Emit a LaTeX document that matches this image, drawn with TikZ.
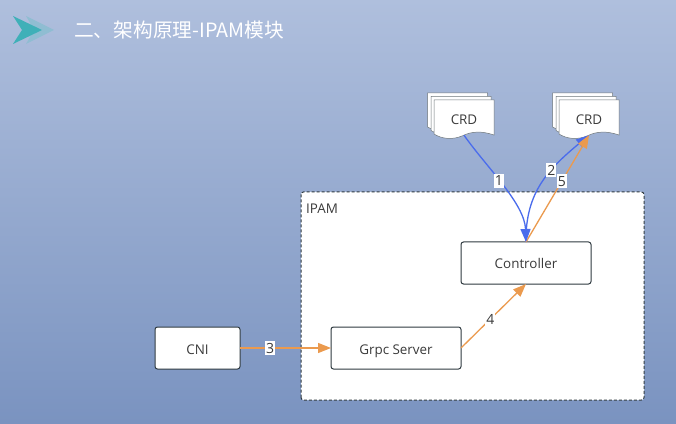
\documentclass[tikz,border=0pt]{standalone}
\usepackage{fontspec}
\setmainfont{Open Sans}
\newfontfamily\cjkfont{Noto Sans CJK SC}
\usetikzlibrary{positioning,arrows.meta}
\definecolor{slidetop}{HTML}{AFBFDD}
\definecolor{slidebottom}{HTML}{7A93C0}
\definecolor{linkblue}{HTML}{4A6CEC}
\definecolor{linkorange}{HTML}{EB9A4E}
\definecolor{boxline}{HTML}{2F3A40}
\definecolor{textgray}{HTML}{3A3A3A}
\definecolor{arrowfront}{HTML}{3FB0B8}
\definecolor{arrowback}{HTML}{8FBDD2}

\begin{document}
\begin{tikzpicture}[
x=1pt, y=1pt,
component/.style={rectangle, rounded corners=2.5pt, draw=boxline, fill=white, line width=1pt, outer sep=0pt, minimum height=42pt, text height=12pt, text depth=0pt, text=textgray, font=\fontsize{13.4}{15}\selectfont},
crdtext/.style={rectangle, minimum width=60pt, minimum height=32pt, inner sep=0pt, text height=12pt, text depth=0pt, text=textgray, font=\fontsize{13.4}{15}\selectfont},
numlabel/.style={fill=white, inner xsep=1pt, inner ysep=2pt, text=textgray, font=\fontsize{14}{15}\selectfont},
bluelink/.style={draw=linkblue, line width=1.3pt, -{Triangle[length=13pt,width=10pt]}},
orangelink/.style={draw=linkorange, line width=1.3pt, -{Triangle[length=13pt,width=10pt]}},
crdsheet/.style={draw=boxline!70, fill=white, line width=0.5pt},
crdstack/.pic={
  \draw[crdsheet] (-36.5,26) -- (23.5,26) -- (23.5,-9) .. controls (12,-5) and (2,-5) .. (-8,-10) .. controls (-18,-14) and (-28,-13) .. (-36.5,-8) -- cycle;
  \draw[crdsheet] (-33,22.5) -- (27,22.5) -- (27,-12.5) .. controls (15,-8.5) and (5,-8.5) .. (-5,-13.5) .. controls (-15,-17.5) and (-25,-16.5) .. (-33,-11.5) -- cycle;
  \draw[crdsheet] (-30,19) -- (30,19) -- (30,-16) .. controls (18,-12) and (8,-12) .. (-2,-17) .. controls (-12,-21) and (-22,-20) .. (-30,-15) -- cycle;
}
]
\useasboundingbox (0,0) rectangle (676,423);
\shade[top color=slidetop, bottom color=slidebottom] (0,0) rectangle (676,423);

% title bar
\fill[arrowback] (26,407) -- (54,393) -- (26,379) -- (34,393) -- cycle;
\fill[arrowfront] (13,407) -- (42,393) -- (13,379) -- (22,393) -- cycle;
\node(title)[anchor=west, inner sep=0pt, text=white, font=\cjkfont\fontsize{19.7}{22}\selectfont] at (74,393){二、架构原理-IPAM模块};

% IPAM area
\draw[draw=boxline, fill=white, line width=1pt, densely dashed, rounded corners=2.5pt] (301,23) rectangle (644,231);
\node(ipam_label)[anchor=north west, inner sep=0pt, text=textgray, font=\fontsize{13.4}{15}\selectfont] at (306,219){IPAM};

\node[component, minimum width=85pt](cni) at (197.5,75){CNI};
\node[component, minimum width=130pt](grpc_server)[right=91pt of cni]{Grpc Server};
\node[component, minimum width=130pt](controller)[above right=43pt and 0pt of grpc_server]{Controller};

\pic at (464,304) {crdstack};
\pic at (589,304) {crdstack};
\node[crdtext](crd_left) at (464,304){CRD};
\node[crdtext](crd_right) at (589,304){CRD};

\draw[bluelink] (controller.north) to[out=91,in=-140,looseness=1.05] node[numlabel,pos=0.62]{2} (crd_right.south);
\draw[orangelink] (controller.north) -- node[numlabel,pos=0.57]{5} (crd_right.south);
\draw[bluelink] (crd_left.south) to[out=-55,in=92,looseness=0.8] node[numlabel,pos=0.45]{1} (controller.north);
\draw[orangelink] (cni.east) -- node[numlabel,pos=0.33]{3} (grpc_server.west);
\draw[orangelink] (grpc_server.east) -- node[numlabel,pos=0.45]{4} (controller.south);
\end{tikzpicture}
\end{document}
